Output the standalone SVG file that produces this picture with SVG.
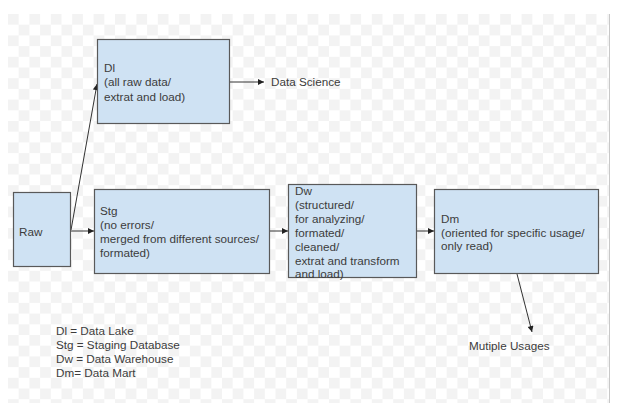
<svg xmlns="http://www.w3.org/2000/svg" width="617" height="413" viewBox="0 0 617 413">
<defs>
<pattern id="chk" x="8" y="14" width="21.4" height="21.4" patternUnits="userSpaceOnUse">
<rect width="21.4" height="21.4" fill="#ffffff"/>
<rect width="10.7" height="10.7" fill="#f3f3f3"/>
<rect x="10.7" y="10.7" width="10.7" height="10.7" fill="#f3f3f3"/>
</pattern>
<marker id="ah" viewBox="0 0 10 10" refX="10" refY="5" markerWidth="7" markerHeight="6" markerUnits="userSpaceOnUse" orient="auto">
<path d="M0,0 L10,5 L0,10 z" fill="#222"/>
</marker>
</defs>
<style>
.box{fill:#cfe2f3;stroke:#595959;stroke-width:1.2}
.t{font-family:"Liberation Sans",Arial,sans-serif;font-size:11.7px;fill:#3c3c3c}
.c{stroke:#333;stroke-width:1;fill:none;marker-end:url(#ah)}
</style>
<rect x="0" y="0" width="617" height="413" fill="#fff"/>
<rect x="8" y="14" width="601" height="389" fill="url(#chk)"/>
<line x1="609.5" y1="14" x2="609.5" y2="403" stroke="#c8c8c8" stroke-width="1"/>

<g id="connectors">
<line class="c" x1="71" y1="231" x2="94" y2="231"/>
<line class="c" x1="71" y1="230" x2="97" y2="84"/>
<line class="c" x1="230" y1="82" x2="264" y2="82"/>
<line class="c" x1="270" y1="231" x2="288" y2="231"/>
<line class="c" x1="417" y1="231" x2="434" y2="231"/>
<line class="c" x1="517" y1="274" x2="532" y2="332"/>
</g>

<g id="raw">
<rect class="box" x="13.5" y="192.5" width="57" height="74"/>
<text class="t" x="19" y="236">Raw</text>
</g>
<g id="dl">
<rect class="box" x="97.5" y="39.5" width="132" height="84"/>
<text class="t" x="104" y="72">Dl</text>
<text class="t" x="104" y="86">(all raw data/</text>
<text class="t" x="104" y="100.5">extrat and load)</text>
</g>
<g id="stg">
<rect class="box" x="94.5" y="189.5" width="175" height="84"/>
<text class="t" x="100" y="215">Stg</text>
<text class="t" x="100" y="229">(no errors/</text>
<text class="t" x="100" y="243">merged from different sources/</text>
<text class="t" x="100" y="257">formated)</text>
</g>
<g id="dw">
<rect class="box" x="288.5" y="184.5" width="128" height="93"/>
<text class="t" x="295" y="194.5">Dw</text>
<text class="t" x="295" y="208.5">(structured/</text>
<text class="t" x="295" y="222.5">for analyzing/</text>
<text class="t" x="295" y="236.5">formated/</text>
<text class="t" x="295" y="250.5">cleaned/</text>
<text class="t" x="295" y="264.5">extrat and transform</text>
<text class="t" x="295" y="277.5">and load)</text>
</g>
<g id="dm">
<rect class="box" x="434.5" y="189.5" width="164" height="84"/>
<text class="t" x="441" y="222.5">Dm</text>
<text class="t" x="441" y="236.5">(oriented for specific usage/</text>
<text class="t" x="441" y="250">only read)</text>
</g>
<g id="datascience">
<text class="t" x="271" y="86">Data Science</text>
</g>
<g id="usages">
<text class="t" x="469" y="350">Mutiple Usages</text>
</g>
<g id="legend">
<text class="t" x="56" y="335">Dl = Data Lake</text>
<text class="t" x="56" y="349">Stg = Staging Database</text>
<text class="t" x="56" y="363">Dw = Data Warehouse</text>
<text class="t" x="56" y="376.5">Dm= Data Mart</text>
</g>
</svg>
